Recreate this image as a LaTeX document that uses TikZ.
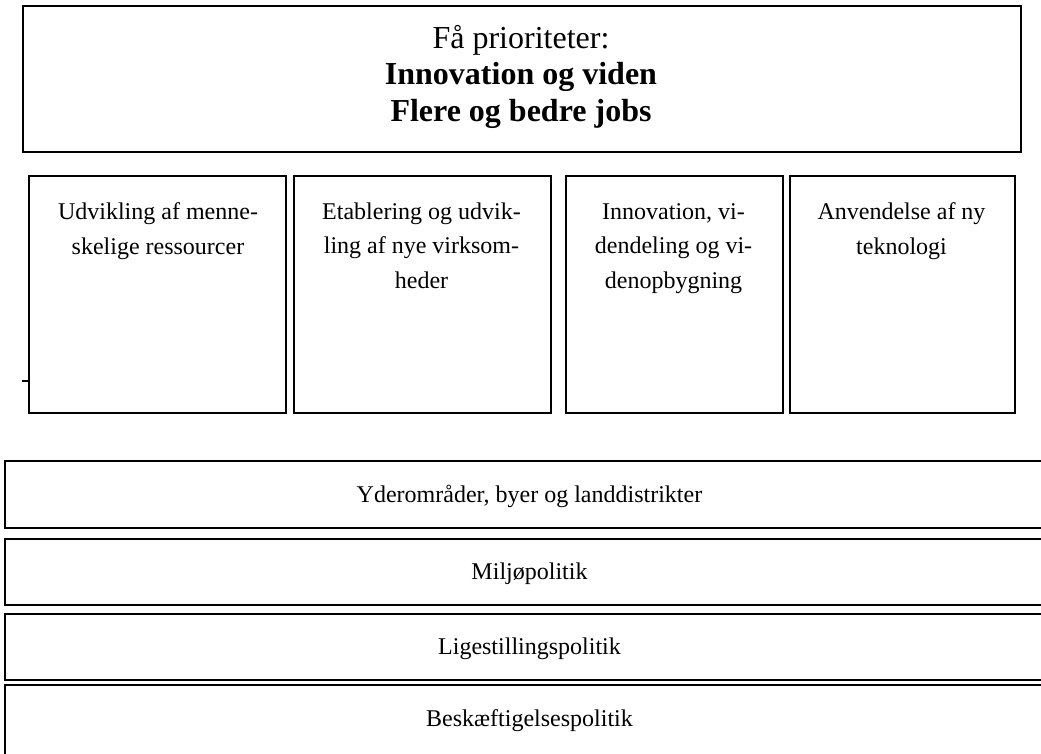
\documentclass[tikz,border=0pt]{standalone}
\usepackage{fontspec}
\setmainfont{Liberation Serif}
\begin{document}
\begin{tikzpicture}[x=1pt,y=-1pt,
  box/.style={draw=black, line width=1.6pt, inner sep=0pt, anchor=north west},
  bodytext/.style={anchor=base, align=center, inner sep=0pt, font=\fontsize{24}{34.7}\selectfont},
  titletext/.style={anchor=base, align=center, inner sep=0pt, font=\fontsize{32}{36.5}\selectfont}]
\useasboundingbox (0,0) rectangle (1041,754);
\clip (0,0) rectangle (1041,754);
% top box
\node[box, minimum width=998pt, minimum height=146pt] (top) at (22,5) {};
\node[titletext] (title) at (521,121.5) {Få prioriteter:\\\textbf{Innovation og viden}\\\textbf{Flere og bedre jobs}};
% four boxes
\node[box, minimum width=257pt, minimum height=237pt] (b1) at (28,175) {};
\node[box, minimum width=257pt, minimum height=237pt] (b2) at (293,175) {};
\node[box, minimum width=217pt, minimum height=237pt] (b3) at (565,175) {};
\node[box, minimum width=225pt, minimum height=237pt] (b4) at (789,175) {};
\node[bodytext] (t1) at (158,254) {Udvikling af menne-\\skelige ressourcer};
\node[bodytext] (t2) at (421.5,288.5) {Etablering og udvik-\\ling af nye virksom-\\heder};
\node[bodytext] (t3) at (673.5,288.5) {Innovation, vi-\\dendeling og vi-\\denopbygning};
\node[bodytext] (t4) at (901.5,254) {Anvendelse af ny\\teknologi};
% small tick
\coordinate (tk) at (22,381);
\draw[line width=1.2pt] (tk) -- (b1.west |- tk);
% bottom boxes
\node[box, minimum width=1051pt, minimum height=67pt] (r1) at (4,460) {};
\node[box, minimum width=1051pt, minimum height=66pt] (r2) at (4,538) {};
\node[box, minimum width=1051pt, minimum height=66pt] (r3) at (4,613) {};
\node[box, minimum width=1051pt, minimum height=80pt] (r4) at (4,684) {};
\node[bodytext] (l1) at (529.5,502) {Yderområder, byer og landdistrikter};
\node[bodytext] (l2) at (529.5,579) {Miljøpolitik};
\node[bodytext] (l3) at (529.5,654) {Ligestillingspolitik};
\node[bodytext] (l4) at (529.5,726) {Beskæftigelsespolitik};
\end{tikzpicture}
\end{document}
